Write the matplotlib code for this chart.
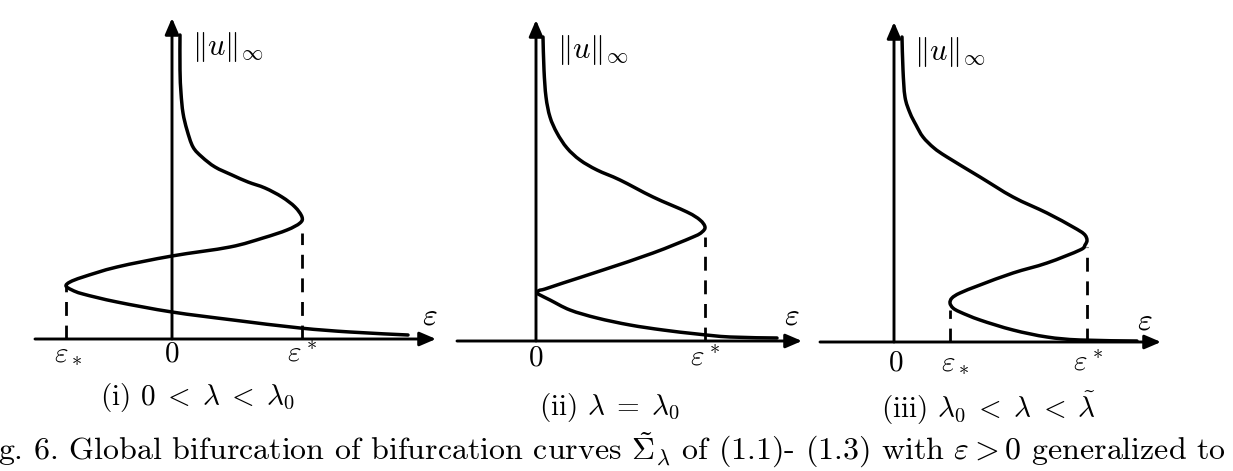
import matplotlib
matplotlib.use('Agg')
import numpy as np
import matplotlib.pyplot as plt
from matplotlib.path import Path
from matplotlib.patches import PathPatch

plt.rcParams['mathtext.fontset'] = 'cm'
plt.rcParams['font.family'] = ['cmr10', 'DejaVu Serif']
plt.rcParams['axes.formatter.use_mathtext'] = True

# curve points: (epsilon, ||u||) in panel units
eps_i = [0.08, 0.08, 0.09, 0.11, 0.15, 0.21, 0.30, 0.43, 0.60, 0.76, 0.93,
         1.10, 1.23, 1.30, 1.28, 1.15, 0.91, 0.58, 0.00, -0.55, -0.89, -1.02,
         -1.06, -1.00, -0.89, -0.55, 0.00, 0.61, 1.28, 1.78, 2.36]
norm_i = [3.04, 2.69, 2.46, 2.26, 2.09, 1.92, 1.82, 1.72, 1.64, 1.57, 1.51,
          1.42, 1.32, 1.22, 1.16, 1.09, 1.01, 0.92, 0.83, 0.72, 0.62, 0.57,
          0.53, 0.49, 0.45, 0.37, 0.27, 0.19, 0.11, 0.07, 0.04]

eps_ii = [0.07, 0.08, 0.10, 0.14, 0.21, 0.31, 0.44, 0.61, 0.84, 1.17, 1.51,
          1.64, 1.69, 1.66, 1.57, 1.17, 0.67, 0.27, 0.09, 0.03, 0.01, 0.04,
          0.14, 0.34, 0.61, 0.94, 1.27, 1.61, 1.94, 2.41]
norm_ii = [3.04, 2.71, 2.44, 2.24, 2.08, 1.93, 1.81, 1.71, 1.61, 1.44, 1.29,
           1.21, 1.14, 1.09, 1.04, 0.88, 0.71, 0.58, 0.52, 0.505, 0.48, 0.46,
           0.41, 0.31, 0.23, 0.16, 0.11, 0.07, 0.04, 0.03]

eps_iii = [0.08, 0.09, 0.11, 0.16, 0.22, 0.29, 0.40, 0.53, 0.86, 1.19, 1.53,
           1.79, 1.90, 1.93, 1.91, 1.86, 1.53, 1.19, 0.86, 0.66, 0.58, 0.56,
           0.59, 0.66, 0.86, 1.19, 1.53, 1.86, 2.43]
norm_iii = [3.05, 2.72, 2.45, 2.29, 2.17, 2.05, 1.94, 1.85, 1.65, 1.45, 1.29,
            1.15, 1.08, 1.02, 0.97, 0.92, 0.79, 0.69, 0.57, 0.49, 0.44, 0.39,
            0.34, 0.30, 0.22, 0.12, 0.05, 0.02, 0.01]

# turning points (dashed drop lines): (epsilon, top of dashes)
dashes_i = [(1.30, 1.06), (-1.06, 0.52)]
dashes_ii = [(1.69, 1.04)]
dashes_iii = [(1.93, 0.95), (0.56, 0.32)]

# tick labels under the epsilon axis
ticks_i = [(-1.04, r'$\varepsilon_*$'), (0.0, '0'), (1.30, r'$\varepsilon^*$')]
ticks_ii = [(0.0, '0'), (1.69, r'$\varepsilon^*$')]
ticks_iii = [(0.02, '0'), (0.61, r'$\varepsilon_*$'), (1.94, r'$\varepsilon^*$')]

captions = [r'(i) $0\;<\;\lambda\;<\;\lambda_0$',
            r'(ii) $\lambda\;=\;\lambda_0$',
            r'(iii) $\lambda_0\;<\;\lambda\;<\;\tilde{\lambda}$']

bottom_line = (r'g. 6. Global bifurcation of bifurcation curves '
               r'$\tilde{\Sigma}_\lambda$ of (1.1)- (1.3) with '
               r'$\varepsilon>0$ generalized to')

W, H = 1233, 471
PX = 100.0  # pixels per panel unit
fig = plt.figure(figsize=(W / 100, H / 100), dpi=100)

X0, X1, Y0, Y1 = -1.5, 2.8, -0.85, 3.3


def make_axes(ox, oy):
    left = (ox + X0 * PX) / W
    bottom = 1 - (oy - Y0 * PX) / H
    ax = fig.add_axes([left, bottom, (X1 - X0) * PX / W, (Y1 - Y0) * PX / H])
    ax.set_xlim(X0, X1)
    ax.set_ylim(Y0, Y1)
    ax.axis('off')
    ax.patch.set_alpha(0)
    return ax


def arrow(ax, start, end):
    ax.annotate('', xy=end, xytext=start,
                arrowprops=dict(arrowstyle='-|>,head_length=0.7,head_width=0.3',
                                lw=2.1, color='black', mutation_scale=14,
                                shrinkA=0, shrinkB=0))


def smooth_curve(xs, ys):
    # Catmull-Rom through the read points, drawn as cubic Bezier segments
    P = np.column_stack([xs, ys])
    n = len(P)
    verts = [P[0]]
    codes = [Path.MOVETO]
    for i in range(n - 1):
        p0 = P[i - 1] if i > 0 else P[i]
        p1, p2 = P[i], P[i + 1]
        p3 = P[i + 2] if i + 2 < n else P[i + 1]
        verts += [p1 + (p2 - p0) / 6, p2 - (p3 - p1) / 6, p2]
        codes += [Path.CURVE4] * 3
    return Path(verts, codes)


panels = [
    dict(origin=(172, 339), eps=eps_i, norm=norm_i, dashes=dashes_i, ticks=ticks_i,
         xaxis=(-1.37, 2.64), ytip=3.21, tick_y=-0.15, eps_lab=(2.58, 0.22),
         norm_lab=(0.2, 2.92), cap=(0.25, -0.59)),
    dict(origin=(536, 341), eps=eps_ii, norm=norm_ii, dashes=dashes_ii, ticks=ticks_ii,
         xaxis=(-0.79, 2.66), ytip=3.21, tick_y=-0.17, eps_lab=(2.56, 0.24),
         norm_lab=(0.21, 2.91), cap=(0.74, -0.67)),
    dict(origin=(894, 342), eps=eps_iii, norm=norm_iii, dashes=dashes_iii, ticks=ticks_iii,
         xaxis=(-0.74, 2.67), ytip=3.20, tick_y=-0.21, eps_lab=(2.51, 0.20),
         norm_lab=(0.2, 2.90), cap=(0.94, -0.66)),
]

for p, cap in zip(panels, captions):
    ax = make_axes(*p['origin'])
    arrow(ax, (p['xaxis'][0], 0), (p['xaxis'][1], 0))
    arrow(ax, (0, 0), (0, p['ytip']))
    ax.add_patch(PathPatch(smooth_curve(p['eps'], p['norm']), fill=False,
                           edgecolor='black', lw=2.5, capstyle='round',
                           joinstyle='round'))
    for x, top in p['dashes']:
        ax.plot([x, x], [0, top], color='black', lw=2.0, dashes=(5, 3.5))
    for x, lab in p['ticks']:
        ax.text(x, p['tick_y'], lab, ha='center', va='center', fontsize=21)
    ax.text(*p['eps_lab'], r'$\varepsilon$', ha='center', va='center', fontsize=23)
    ax.text(*p['norm_lab'], r'$\|u\|_\infty$', ha='left', va='center', fontsize=22)
    ax.text(*p['cap'], cap, ha='center', va='center', fontsize=21)

fig.text(-2 / W, 1 - 450 / H, bottom_line, ha='left', va='center', fontsize=23)

fig.savefig('out.png', dpi=100)
